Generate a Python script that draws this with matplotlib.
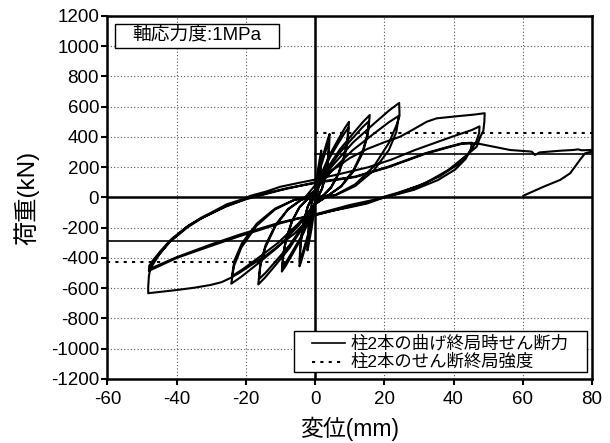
import numpy as np
import matplotlib
matplotlib.use("Agg")
import matplotlib.pyplot as plt
from matplotlib.patches import Rectangle

plt.rcParams['font.family'] = ['Liberation Sans', 'Noto Sans CJK JP']
plt.rcParams['axes.unicode_minus'] = False

# ---- data: hysteresis loops (displacement mm, load kN) ----
cyc_02mm = [(0, 25), (0.36, 102), (0.81, 180), (1.26, 242), (1.58, 285), (1.8, 310),
            (1.75, 248), (1.58, 180), (1.26, 102), (0.86, 43), (0.45, 9), (0.22, 0),
            (0, -28), (-0.44, -116), (-0.99, -203), (-1.54, -273), (-1.94, -322), (-2.2, -350),
            (-2.13, -280), (-1.94, -203), (-1.54, -116), (-1.06, -49), (-0.55, -11), (-0.26, 0)]
cyc_04mm_a = [(0, 34), (0.84, 139), (1.89, 244), (2.94, 328), (3.70, 386), (4.2, 420),
              (4.07, 336), (3.70, 244), (2.94, 139), (2.02, 59), (1.05, 13), (0.5, 0),
              (0, -36), (-0.9, -150), (-2.03, -264), (-3.15, -355), (-3.96, -419), (-4.5, -455),
              (-4.37, -364), (-3.96, -264), (-3.15, -150), (-2.16, -64), (-1.13, -14), (-0.54, 0)]
cyc_04mm_b = [(0, 30), (0.8, 122), (1.8, 215), (2.8, 289), (3.52, 340), (4.0, 370),
              (3.88, 296), (3.52, 215), (2.8, 122), (1.92, 52), (1.0, 11), (0.48, 0),
              (0, -34), (-0.88, -139), (-1.98, -244), (-3.08, -328), (-3.87, -386), (-4.4, -420),
              (-4.27, -336), (-3.87, -244), (-3.08, -139), (-2.11, -59), (-1.1, -13), (-0.53, 0)]
cyc_10mm_a = [(0, 40), (1.96, 165), (4.41, 290), (6.86, 390), (8.62, 460), (9.8, 500),
              (9.51, 400), (8.62, 290), (6.86, 165), (4.70, 70), (2.45, 15), (1.18, 0),
              (0, -39), (-1.92, -162), (-4.32, -284), (-6.72, -382), (-8.45, -451), (-9.6, -490),
              (-9.31, -392), (-8.45, -284), (-6.72, -162), (-4.61, -69), (-2.4, -15), (-1.15, 0)]
cyc_10mm_b = [(0, 37), (1.92, 152), (4.32, 267), (6.72, 359), (8.45, 423), (9.6, 460),
              (9.31, 368), (8.45, 267), (6.72, 152), (4.61, 64), (2.4, 14), (1.15, 0),
              (0, -37), (-1.88, -152), (-4.23, -267), (-6.58, -359), (-8.27, -423), (-9.4, -460),
              (-9.12, -368), (-8.27, -267), (-6.58, -152), (-4.51, -64), (-2.35, -14), (-1.13, 0)]
cyc_15mm_a = [(0, 44), (3.16, 180), (7.11, 316), (11.06, 425), (13.9, 501), (15.8, 545),
              (15.33, 436), (13.9, 316), (11.06, 180), (7.58, 76), (3.95, 16), (1.9, 0),
              (0, -46), (-3.28, -190), (-7.38, -334), (-11.48, -449), (-14.43, -529), (-16.4, -575),
              (-15.91, -460), (-14.43, -334), (-11.48, -190), (-7.87, -81), (-4.1, -17), (-1.97, 0)]
cyc_15mm_b = [(0, 40), (3.12, 167), (7.02, 293), (10.92, 394), (13.73, 465), (15.6, 505),
              (15.13, 404), (13.73, 293), (10.92, 167), (7.49, 71), (3.9, 15), (1.87, 0),
              (0, -43), (-3.24, -178), (-7.29, -313), (-11.34, -421), (-14.26, -497), (-16.2, -540),
              (-15.71, -432), (-14.26, -313), (-11.34, -178), (-7.78, -76), (-4.05, -16), (-1.94, 0)]
cyc_25mm_a = [(0, 50), (4.86, 206), (10.94, 363), (17.01, 488), (21.38, 575), (24.3, 625),
              (24.4, 540), (23.57, 480), (21.38, 363), (17.01, 206), (11.66, 88), (6.08, 19), (2.9, 0),
              (0, -46), (-4.84, -188), (-10.89, -331), (-16.94, -445), (-21.3, -524), (-24.2, -570),
              (-23.47, -456), (-21.3, -331), (-16.94, -188), (-11.62, -80), (-6.05, -17), (-2.9, 0)]
cyc_25mm_b = [(0, 43), (4.84, 178), (10.89, 313), (16.94, 421), (21.3, 497), (24.2, 540),
              (23.47, 432), (21.3, 313), (16.94, 178), (11.62, 76), (6.05, 16), (2.9, 0),
              (0, -42), (-4.8, -172), (-10.8, -302), (-16.8, -406), (-21.12, -478), (-24.0, -520),
              (-23.28, -416), (-21.12, -302), (-16.8, -172), (-11.52, -73), (-6.0, -16), (-2.88, 0)]
cyc_48mm_a = [(0, 80), (5, 180), (10, 260), (15, 320), (20, 365), (24.6, 402), (28, 445),
              (32.3, 501), (35.1, 523), (41, 537), (46, 548), (49, 557),
              (48.9, 500), (48.6, 440), (47.7, 400), (46.7, 336), (43.3, 270), (38.5, 182),
              (31.8, 94), (24.1, 28), (19.3, -5),
              (15, -40), (10, -65), (5, -88), (0, -115), (-3, -170), (-6, -240), (-10, -310),
              (-14, -380), (-18, -440), (-22, -500), (-24.6, -534), (-27, -560), (-30.3, -579),
              (-35, -597), (-40, -612), (-45, -625), (-48.2, -633),
              (-48.2, -590), (-48, -520), (-47.6, -470), (-44.8, -370), (-41.9, -290),
              (-37.1, -195), (-33, -135), (-30, -100), (-25.5, -45), (-20, -5), (-18.8, 10),
              (-14, 40), (-10, 71), (-5, 95), (0, 118)]
cyc_48mm_b = [(8, 160), (15.4, 200), (22, 250), (28.9, 314), (35.1, 365), (40, 405),
              (45.3, 446), (47.5, 470),
              (47.4, 425), (46.5, 365), (44.5, 295), (41, 215), (36, 140), (30, 78), (24, 32),
              (19.5, 2),
              (15, -35), (10, -60), (5, -88), (0, -118), (-5, -140), (-10.1, -171), (-16, -215),
              (-21.7, -255), (-30, -320), (-40, -400), (-48, -485),
              (-47.9, -450), (-45, -375), (-42, -295), (-37, -200), (-33, -140), (-26, -62),
              (-20, -12), (-15, 18), (-10, 48), (0, 100)]
cyc_48mm_c = [(11.6, 138), (21.2, 204), (31.8, 292), (38, 332), (42.4, 358), (45.3, 362),
              (45, 320), (43.5, 255), (40.5, 185), (35.5, 115), (28.5, 50), (21.5, 8), (18.5, -8),
              (10, -50), (0, -112), (-10, -165), (-21.7, -245), (-30, -310), (-40, -395),
              (-47.5, -470),
              (-47.3, -430), (-44.5, -350), (-41.5, -275), (-36.5, -185), (-32, -128),
              (-25, -50), (-19.5, -5), (-14, 28), (-8, 62), (0, 95)]
final_push = [(11.6, 135), (21.2, 200), (31.8, 288), (38, 328), (42.4, 355), (46.7, 358),
              (51.5, 336), (56.3, 314), (62.6, 303), (63.5, 281), (64.9, 298), (70.8, 309),
              (74.6, 314), (76, 318), (77, 312), (80, 314),
              (80, 303), (78, 292), (76.5, 248), (73.7, 160), (70.8, 116), (66, 71), (60.2, 12)]

cycles = [cyc_02mm, cyc_04mm_a, cyc_04mm_b, cyc_10mm_a, cyc_10mm_b, cyc_15mm_a, cyc_15mm_b,
          cyc_25mm_a, cyc_25mm_b, cyc_48mm_a, cyc_48mm_b, cyc_48mm_c, final_push]

# reference strengths (kN)
flexural_shear = 287      # 柱2本の曲げ終局時せん断力
shear_strength = 428      # 柱2本のせん断終局強度
legend_labels = ['柱2本の曲げ終局時せん断力', '柱2本のせん断終局強度']

x_ticks = [-60, -40, -20, 0, 20, 40, 60, 80]
y_ticks = [-1200, -1000, -800, -600, -400, -200, 0, 200, 400, 600, 800, 1000, 1200]

DOTTED = (0, (1.5, 2.5))

# ---- figure ----
fig = plt.figure(figsize=(6.1, 4.43), dpi=100)
ax = fig.add_axes([0.176, 0.1445, 0.7945, 0.8195])

ax.set_xlim(-60, 80)
ax.set_ylim(-1200, 1200)
ax.set_xticks(x_ticks)
ax.set_yticks(y_ticks)
ax.grid(True, color='#555555', linestyle=(0, (1, 2)), linewidth=0.8)
ax.set_axisbelow(True)

for s in ax.spines.values():
    s.set_linewidth(1.8)
ax.tick_params(axis='y', direction='out', length=4, width=1.5, labelsize=13.5, pad=2)
ax.tick_params(axis='x', direction='out', length=4, width=1.5, labelsize=13.5, pad=5)

ax.axhline(0, color='black', lw=1.8, zorder=3)
ax.axvline(0, color='black', lw=1.8, zorder=3)

pts = np.array([p for c in cycles for p in c], dtype=float)
ax.plot(pts[:, 0], pts[:, 1], color='black', lw=1.5, zorder=4)

ax.plot([0, 80], [flexural_shear, flexural_shear], color='black', lw=1.2, zorder=4)
ax.plot([-60, 0], [-flexural_shear, -flexural_shear], color='black', lw=1.2, zorder=4)
ax.plot([0, 80], [shear_strength, shear_strength], color='black', lw=1.5,
        linestyle=DOTTED, zorder=4)
ax.plot([-60, 0], [-shear_strength, -shear_strength], color='black', lw=1.5,
        linestyle=DOTTED, zorder=4)

ax.set_xlabel('変位(mm)', fontsize=16.5, labelpad=6)
ax.set_ylabel('荷重(kN)', fontsize=17.5, labelpad=8)

# annotation box
ax.add_patch(Rectangle((0.016, 0.912), 0.338, 0.066, transform=ax.transAxes,
                       facecolor='white', edgecolor='black', lw=1.0, zorder=6))
ax.text(0.185, 0.945, '軸応力度:1MPa', transform=ax.transAxes, ha='center', va='center',
        fontsize=13.5, zorder=7)

# legend (drawn in axes coordinates)
ax.add_patch(Rectangle((0.385, 0.019), 0.605, 0.113, transform=ax.transAxes,
                       facecolor='white', edgecolor='black', lw=1.0, zorder=6))
row_y = [0.0983, 0.0477]
ax.plot([0.422, 0.490], [row_y[0], row_y[0]], transform=ax.transAxes, color='black',
        lw=1.2, zorder=7)
ax.plot([0.422, 0.490], [row_y[1], row_y[1]], transform=ax.transAxes, color='black',
        lw=1.5, linestyle=DOTTED, zorder=7)
for yy, lab in zip(row_y, legend_labels):
    ax.text(0.5007, yy, lab, transform=ax.transAxes, ha='left', va='center',
            fontsize=12.5, zorder=7)

fig.savefig('out.png', dpi=100)
